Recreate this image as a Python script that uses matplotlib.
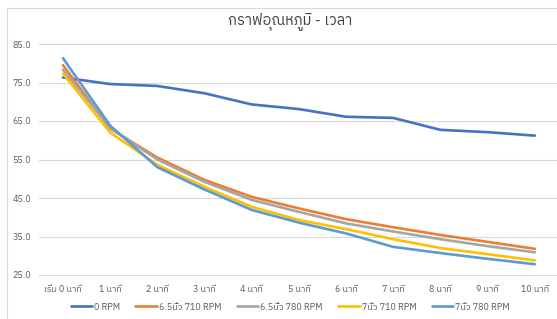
import matplotlib
matplotlib.use("Agg")
import matplotlib.pyplot as plt
from matplotlib.patches import Rectangle

plt.rcParams['font.family'] = ['IBM Plex Sans Thai', 'DejaVu Sans']

# ข้อมูล
categories = ['เริ่ม 0 นาที', '1 นาที', '2 นาที', '3 นาที', '4 นาที', '5 นาที',
              '6 นาที', '7 นาที', '8 นาที', '9 นาที', '10 นาที']
rpm0 = [76.3, 74.6, 74.1, 72.2, 69.3, 68.1, 66.1, 65.8, 62.7, 62.1, 61.2]
in65_710 = [79.5, 63.0, 55.5, 49.7, 45.3, 42.3, 39.5, 37.4, 35.4, 33.6, 31.8]
in65_780 = [78.3, 63.2, 55.0, 49.2, 44.5, 41.4, 38.4, 36.3, 34.3, 32.5, 30.9]
in7_710 = [77.3, 62.0, 53.6, 47.9, 42.7, 39.3, 36.9, 34.3, 32.0, 30.4, 28.8]
in7_780 = [81.3, 63.8, 53.0, 47.2, 41.9, 38.6, 35.8, 32.3, 30.7, 29.2, 27.8]

series_names = ['0 RPM', '6.5นิ้ว 710 RPM', '6.5นิ้ว 780 RPM', '7นิ้ว 710 RPM', '7นิ้ว 780 RPM']
series_vals = [rpm0, in65_710, in65_780, in7_710, in7_780]
colors = ['#4472C4', '#ED7D31', '#A5A5A5', '#FFC000', '#5B9BD5']

fig = plt.figure(figsize=(5.57, 3.19), dpi=100)
# กรอบแผนภูมิ
fig.patches.append(Rectangle((7/557, -0.1), 1.2, 1 - 8/319 + 0.1, transform=fig.transFigure,
                             fill=False, edgecolor='#D9D9D9', linewidth=0.8))
ax = fig.add_axes([39.4/557, 1 - 275/319, 519/557, 231/319])

x = list(range(len(categories)))
for name, vals, c in zip(series_names, series_vals, colors):
    ax.plot(x, vals, color=c, linewidth=1.9, label=name, solid_capstyle='round')

ax.set_xlim(-0.5, 10.5)
ax.set_ylim(25, 85)
ax.set_yticks([25, 35, 45, 55, 65, 75, 85])
ax.set_yticklabels([f'{v:.1f}' for v in [25, 35, 45, 55, 65, 75, 85]])
ax.set_xticks(x)
ax.set_xticklabels(categories)
ax.grid(axis='y', color='#D9D9D9', linewidth=0.8)
ax.set_axisbelow(True)
for s in ['top', 'right', 'left']:
    ax.spines[s].set_visible(False)
ax.spines['bottom'].set_color('#D9D9D9')
ax.tick_params(axis='both', length=0, labelsize=6.5, colors='#595959')
ax.tick_params(axis='x', pad=7)
ax.tick_params(axis='y', pad=6)

fig.text(0.52, 1 - 22/319, 'กราฟอุณหภูมิ - เวลา', ha='center', va='center',
         fontsize=10.5, color='#404040')

ax.legend(loc='center', bbox_to_anchor=(0.483, -0.139), ncol=5, frameon=False,
          fontsize=6.5, handlelength=2.4, handletextpad=0.2, columnspacing=1.7,
          labelcolor='#595959', borderpad=0)

fig.savefig('out.png', dpi=100)
